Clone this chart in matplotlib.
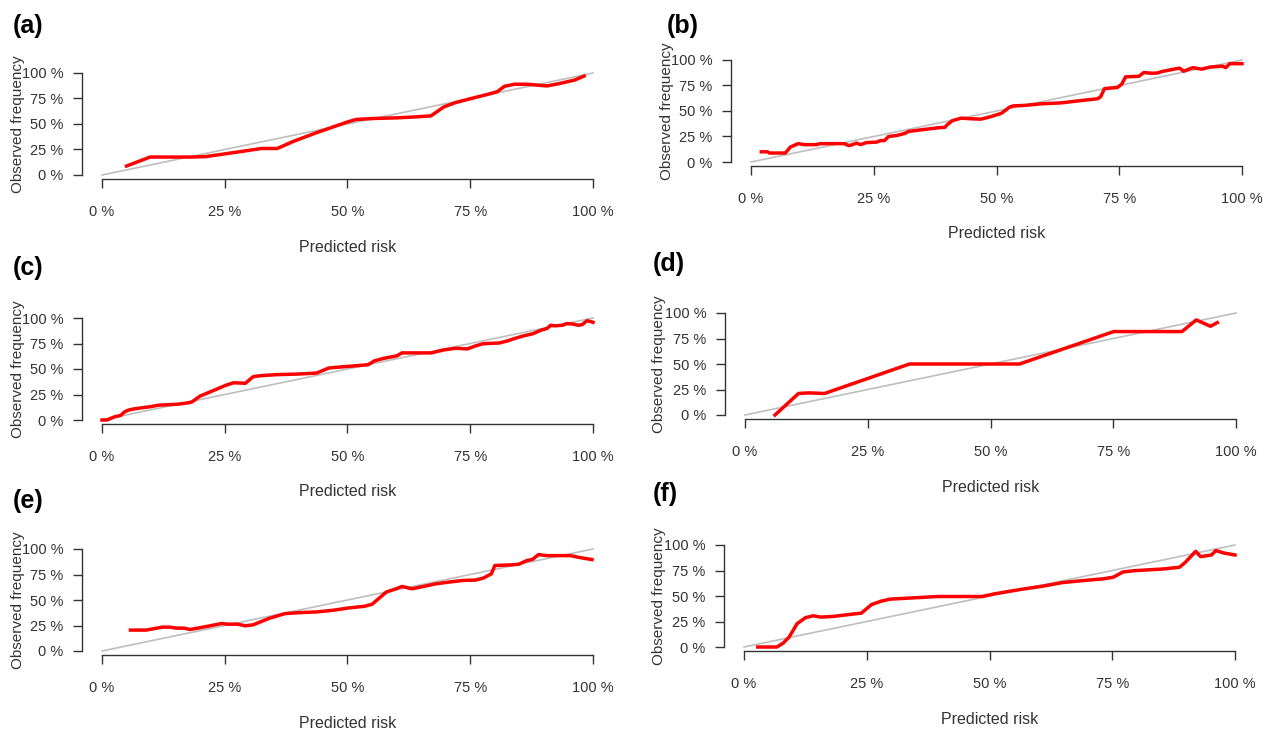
import numpy as np
import matplotlib
matplotlib.use("Agg")
import matplotlib.pyplot as plt

plt.rcParams['font.family'] = ['Liberation Sans', 'DejaVu Sans']

# calibration curves (predicted risk, observed frequency)
a_x = [0.05, 0.098, 0.18, 0.21, 0.24, 0.29, 0.325, 0.357, 0.39, 0.437, 0.47, 0.50, 0.518, 0.558, 0.60,
       0.64, 0.67, 0.696, 0.72, 0.752, 0.793, 0.805, 0.82, 0.84, 0.865, 0.89, 0.906, 0.93, 0.962, 0.982]
a_y = [0.088, 0.176, 0.176, 0.18, 0.20, 0.235, 0.26, 0.26, 0.33, 0.415, 0.47, 0.52, 0.545, 0.555, 0.56,
       0.57, 0.58, 0.667, 0.71, 0.75, 0.80, 0.817, 0.87, 0.89, 0.89, 0.88, 0.873, 0.895, 0.93, 0.97]

b_x = [0.021, 0.034, 0.037, 0.07, 0.08, 0.096, 0.109, 0.133, 0.141, 0.19, 0.20, 0.215, 0.223, 0.235,
       0.256, 0.264, 0.272, 0.28, 0.297, 0.313, 0.321, 0.346, 0.38, 0.395, 0.40, 0.41, 0.428, 0.444,
       0.468, 0.485, 0.51, 0.526, 0.534, 0.558, 0.59, 0.632, 0.657, 0.681, 0.706, 0.712, 0.72, 0.746,
       0.755, 0.763, 0.79, 0.80, 0.816, 0.828, 0.836, 0.861, 0.873, 0.881, 0.90, 0.918, 0.934, 0.96,
       0.967, 0.975, 1.0]
b_y = [0.10, 0.10, 0.088, 0.088, 0.146, 0.18, 0.17, 0.17, 0.18, 0.18, 0.16, 0.185, 0.17, 0.19,
       0.195, 0.21, 0.21, 0.25, 0.26, 0.28, 0.30, 0.315, 0.335, 0.34, 0.367, 0.405, 0.43, 0.425,
       0.42, 0.44, 0.477, 0.536, 0.55, 0.555, 0.57, 0.58, 0.594, 0.607, 0.62, 0.64, 0.72, 0.73,
       0.763, 0.835, 0.84, 0.877, 0.87, 0.873, 0.886, 0.91, 0.92, 0.89, 0.925, 0.91, 0.93, 0.94,
       0.925, 0.964, 0.964]

c_x = [0.0, 0.01, 0.026, 0.034, 0.038, 0.046, 0.054, 0.066, 0.098, 0.115, 0.155, 0.175, 0.183, 0.20,
       0.22, 0.252, 0.268, 0.292, 0.308, 0.324, 0.357, 0.397, 0.437, 0.462, 0.494, 0.518, 0.542, 0.555,
       0.575, 0.60, 0.611, 0.647, 0.671, 0.696, 0.72, 0.744, 0.76, 0.776, 0.809, 0.825, 0.841, 0.857,
       0.877, 0.894, 0.906, 0.914, 0.922, 0.938, 0.946, 0.958, 0.97, 0.978, 0.988, 1.0]
c_y = [0.0, 0.0, 0.032, 0.04, 0.045, 0.08, 0.097, 0.11, 0.13, 0.145, 0.155, 0.168, 0.177, 0.235,
       0.275, 0.34, 0.365, 0.36, 0.425, 0.435, 0.445, 0.45, 0.46, 0.51, 0.523, 0.532, 0.542, 0.58,
       0.606, 0.628, 0.658, 0.658, 0.658, 0.687, 0.703, 0.697, 0.725, 0.748, 0.755, 0.774, 0.80, 0.823,
       0.845, 0.88, 0.897, 0.929, 0.923, 0.929, 0.945, 0.942, 0.929, 0.935, 0.974, 0.958]

d_x = [0.061, 0.109, 0.13, 0.162, 0.335, 0.559, 0.751, 0.89, 0.919, 0.948, 0.962]
d_y = [0.0, 0.211, 0.217, 0.211, 0.50, 0.50, 0.818, 0.818, 0.932, 0.87, 0.906]

e_x = [0.058, 0.09, 0.107, 0.123, 0.139, 0.151, 0.167, 0.179, 0.195, 0.22, 0.244, 0.256, 0.276, 0.292,
       0.308, 0.341, 0.373, 0.405, 0.437, 0.47, 0.502, 0.534, 0.55, 0.579, 0.599, 0.611, 0.631, 0.655,
       0.68, 0.712, 0.736, 0.76, 0.776, 0.793, 0.80, 0.833, 0.849, 0.865, 0.877, 0.889, 0.906, 0.954,
       0.97, 0.998]
e_y = [0.205, 0.205, 0.22, 0.234, 0.234, 0.224, 0.224, 0.211, 0.224, 0.247, 0.27, 0.263, 0.263, 0.247,
       0.257, 0.321, 0.367, 0.377, 0.383, 0.399, 0.422, 0.438, 0.458, 0.578, 0.61, 0.633, 0.61, 0.633,
       0.659, 0.679, 0.692, 0.695, 0.714, 0.756, 0.838, 0.844, 0.851, 0.886, 0.899, 0.945, 0.935, 0.935,
       0.919, 0.896]

f_x = [0.028, 0.067, 0.08, 0.092, 0.108, 0.125, 0.141, 0.157, 0.182, 0.215, 0.239, 0.26, 0.28, 0.297,
       0.346, 0.395, 0.444, 0.485, 0.51, 0.567, 0.608, 0.649, 0.69, 0.731, 0.752, 0.772, 0.797, 0.854,
       0.887, 0.899, 0.92, 0.93, 0.952, 0.961, 0.977, 1.0]
f_y = [0.0, 0.0, 0.039, 0.098, 0.228, 0.287, 0.306, 0.293, 0.30, 0.319, 0.332, 0.417, 0.45, 0.469,
       0.482, 0.495, 0.495, 0.495, 0.521, 0.567, 0.596, 0.632, 0.651, 0.668, 0.684, 0.736, 0.749, 0.765,
       0.782, 0.831, 0.938, 0.886, 0.902, 0.945, 0.922, 0.902]

ticks = [0, 0.25, 0.5, 0.75, 1.0]
tick_labels = ['0 %', '25 %', '50 %', '75 %', '100 %']
panel_names = ['(a)', '(b)', '(c)', '(d)', '(e)', '(f)']
curves = [(a_x, a_y), (b_x, b_y), (c_x, c_y), (d_x, d_y), (e_x, e_y), (f_x, f_y)]

W, H = 1270, 730
# pixel layout: x of 0% / 100% ticks, y of 100% / 0% ticks, panel letter x/y, y-label x
boxes = [(102, 593, 73, 175, 13, 26, 18),
         (751, 1242, 60, 162, 667, 26, 667),
         (102, 593, 318, 420, 13, 268, 18),
         (745, 1236, 313, 415, 653, 264, 659),
         (102, 593, 549, 651, 13, 501, 18),
         (744, 1235, 545, 647, 653, 494, 659)]

fig = plt.figure(figsize=(W / 100, H / 100), dpi=100)
txt = '#333333'

for (cx, cy), name, (x0, x1, yt, yb, lx, ly, yl) in zip(curves, panel_names, boxes):
    pw = x1 - x0
    ph = yb - yt
    left = x0 - 0.04 * pw
    right = x1 + 0.04 * pw
    top = yt - 0.04 * ph
    bottom = yb + 0.04 * ph
    ax = fig.add_axes([left / W, 1 - bottom / H, (right - left) / W, (bottom - top) / H])
    ax.set_xlim(-0.04, 1.04)
    ax.set_ylim(-0.04, 1.04)
    ax.patch.set_alpha(0)

    ax.plot([0, 1], [0, 1], color='#bebebe', lw=1.2)
    ax.plot(cx, cy, color='#ff0000', lw=2.5, solid_joinstyle='round')

    for s in ['top', 'right']:
        ax.spines[s].set_visible(False)
    for s in ['left', 'bottom']:
        ax.spines[s].set_bounds(0, 1)
        ax.spines[s].set_color(txt)
        ax.spines[s].set_linewidth(1.0)
    ax.set_xticks(ticks)
    ax.set_xticklabels(tick_labels)
    ax.set_yticks(ticks)
    ax.set_yticklabels(tick_labels)
    ax.tick_params(axis='x', length=6.5, width=1.0, color=txt, labelcolor=txt, labelsize=10.5, pad=12)
    ax.tick_params(axis='y', length=6.5, width=1.0, color=txt, labelcolor=txt, labelsize=10.5, pad=7)

    fig.text(yl / W, 1 - (yt + yb) / 2 / H, 'Observed frequency', rotation=90,
             ha='center', va='center', fontsize=11, color=txt)
    fig.text((x0 + x1) / 2 / W, 1 - (yb + 72) / H, 'Predicted risk',
             ha='center', va='center', fontsize=11.5, color=txt)
    fig.text(lx / W, 1 - ly / H, name, ha='left', va='center', fontsize=18,
             fontweight='bold', color='black')

fig.savefig('out.png', dpi=100)
